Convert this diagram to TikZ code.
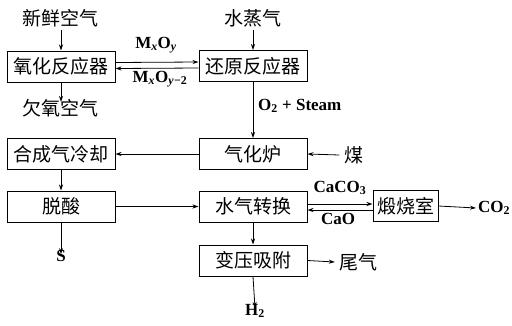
\documentclass[tikz,border=0pt]{standalone}
\usepackage{fontspec}
\setmainfont{Liberation Serif}
\newfontfamily\cjk{Noto Sans CJK SC}
\usetikzlibrary{arrows.meta}
\begin{document}
\begin{tikzpicture}[x=1pt,y=-1pt,
  box/.style={draw,line width=1pt,minimum width=108pt,minimum height=31pt,inner sep=0pt,font=\cjk\fontsize{19}{19}\selectfont},
  lbl/.style={inner sep=0pt,font=\cjk\fontsize{19}{19}\selectfont},
  chem/.style={inner sep=0pt,font=\bfseries\fontsize{17}{17}\selectfont},
  arr/.style={line width=0.8pt,-{Stealth[length=6pt,width=4pt]}},
  ln/.style={line width=0.8pt}]
\useasboundingbox (0,0) rectangle (512,325);
% boxes
\node[box] (ox) at (61,66.5) {氧化反应器};
\node[box] (re) at (253,66) {还原反应器};
\node[box] (gh) at (253,154) {气化炉};
\node[box] (lq) at (61,154) {合成气冷却};
\node[box] (ts) at (61,206.5) {脱酸};
\node[box] (sq) at (253,206.5) {水气转换};
\node[box] (by) at (253,260.5) {变压吸附};
\node[box,minimum width=65pt] (ds) at (405.5,206) {煅烧室};
% free labels
\node[lbl] (air) at (61,18) {新鲜空气};
\node[lbl] (steam) at (253,18) {水蒸气};
\node[lbl] (lean) at (61,108) {欠氧空气};
\node[lbl] (coal) at (354,155) {煤};
\node[lbl] (tail) at (358,262) {尾气};
\node[chem,anchor=west] (os) at (258,106) {O\textsubscript{2} + Steam};
\node[chem] (s) at (61,256) {S};
\node[chem] (h2) at (255,311) {H\textsubscript{2}};
\node[chem,anchor=west] (co2) at (478,208) {CO\textsubscript{2}};
\node[chem] (mo1) at (156,45) {M\textsubscript{\itshape x}O\textsubscript{\itshape y}};
\node[chem] (mo2) at (160,79) {M\textsubscript{\itshape x}O\textsubscript{\itshape y}\textsubscript{\textminus2}};
\node[chem] (caco) at (340,188) {CaCO\textsubscript{3}};
\node[chem] (cao) at (338,219) {CaO};
% connectors
\draw[arr] (air.south) ++(0,3) -- (ox.north);
\draw[arr] (steam.south) ++(0,3) -- (re.north);
\draw[arr] (ox.south) -- ([yshift=-3pt]lean.north);
\draw[arr] ([yshift=4pt]ox.east) -- ([yshift=4pt]re.west);
\draw[arr] ([yshift=-2pt]re.west) -- ([yshift=-2pt]ox.east);
\draw[arr] (re.south) -- (gh.north);
\draw[arr] ([xshift=-5pt]coal.west) -- (gh.east);
\draw[arr] (gh.west) -- (lq.east);
\draw[arr] (lq.south) -- (ts.north);
\draw[arr] (ts.east) -- (sq.west);
\draw[arr] (ts.south) -- ([yshift=-4pt]s.north);
\draw[arr] ([yshift=2.5pt]sq.east) -- ([yshift=2.5pt]ds.west |- sq.east);
\draw[arr] ([yshift=-3.5pt]ds.west |- sq.east) -- ([yshift=-3.5pt]sq.east);
\draw[arr] (ds.east) -- ([xshift=-2pt]co2.west);
\draw[arr] (sq.south) -- (by.north);
\draw[arr] (by.east) -- ([xshift=-4pt]tail.west);
\draw[arr] (by.south) -- ([yshift=-4pt]h2.north);
\end{tikzpicture}
\end{document}
